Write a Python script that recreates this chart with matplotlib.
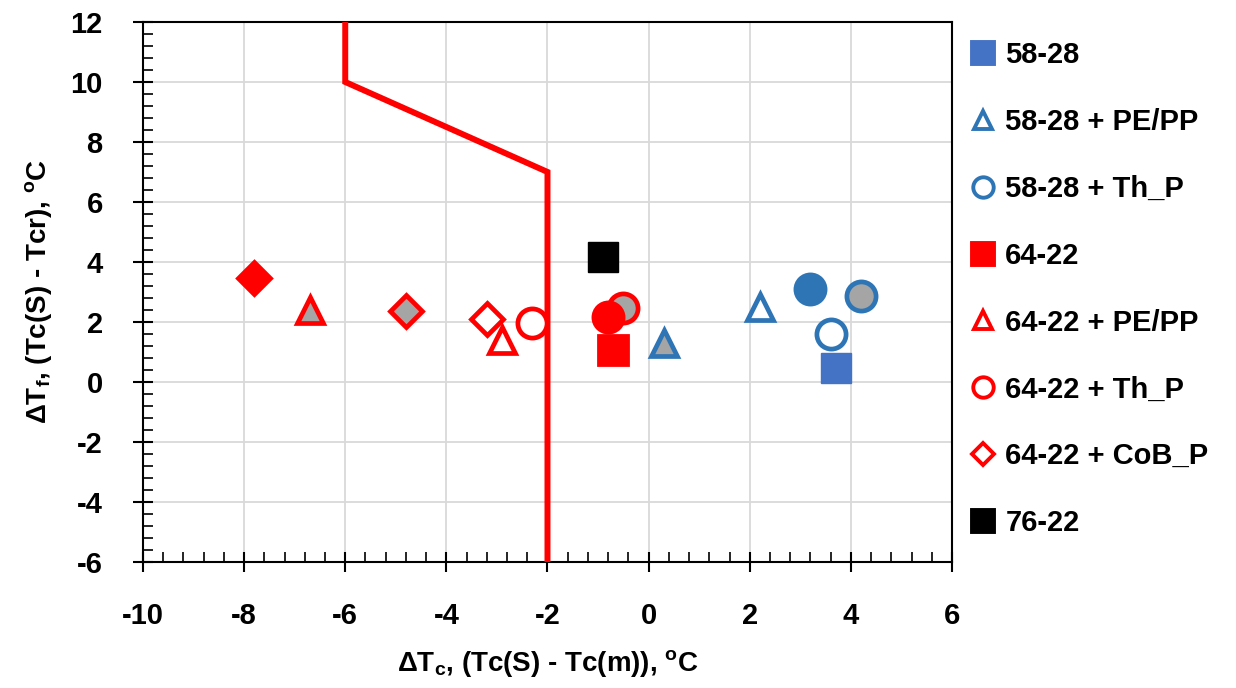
import numpy as np
import matplotlib
matplotlib.use("Agg")
import matplotlib.pyplot as plt
from matplotlib.ticker import MultipleLocator

# Шрифты
FONT = 'Liberation Sans'
plt.rcParams['font.family'] = [FONT, 'DejaVu Sans']
plt.rcParams['font.weight'] = 'bold'
plt.rcParams['axes.unicode_minus'] = False
plt.rcParams['mathtext.fontset'] = 'custom'
plt.rcParams['mathtext.rm'] = FONT + ':bold'
plt.rcParams['mathtext.it'] = FONT + ':bold'
plt.rcParams['mathtext.bf'] = FONT + ':bold'
plt.rcParams['mathtext.default'] = 'rm'

# Цвета
BLUE_SQ = '#4472C4'
BLUE = '#2E75B6'
RED = '#FF0000'
GRAY = '#A5A5A5'

# Данные
# 58-28
b58_x = [3.7]
b58_y = [0.45]
# 58-28 + PE/PP: пустой / серый
b58_pe_x = [2.2]
b58_pe_y = [2.5]
b58_pe_gray_x = [0.3]
b58_pe_gray_y = [1.3]
# 58-28 + Th_P: пустой / залитый / серый
b58_th_x = [3.6]
b58_th_y = [1.6]
b58_th_solid_x = [3.2]
b58_th_solid_y = [3.1]
b58_th_gray_x = [4.2]
b58_th_gray_y = [2.85]
# 64-22
b64_x = [-0.7]
b64_y = [1.05]
# 64-22 + PE/PP
b64_pe_x = [-2.9]
b64_pe_y = [1.4]
b64_pe_gray_x = [-6.7]
b64_pe_gray_y = [2.4]
# 64-22 + Th_P
b64_th_x = [-2.3]
b64_th_y = [1.95]
b64_th_solid_x = [-0.8]
b64_th_solid_y = [2.15]
b64_th_gray_x = [-0.5]
b64_th_gray_y = [2.45]
# 64-22 + CoB_P
b64_cob_x = [-3.2]
b64_cob_y = [2.1]
b64_cob_solid_x = [-7.8]
b64_cob_solid_y = [3.45]
b64_cob_gray_x = [-4.8]
b64_cob_gray_y = [2.35]
# 76-22
b76_x = [-0.9]
b76_y = [4.15]

# Граничная линия
limit_x = [-6, -6, -2, -2]
limit_y = [12, 10, 7, -6]

fig = plt.figure(figsize=(12.36, 6.88), dpi=100)
ax = fig.add_axes([0.1157, 0.1835, 0.6545, 0.7845])

ax.plot(limit_x, limit_y, color=RED, lw=4.3, zorder=3, solid_joinstyle='miter')

MS_SQ = 22
MS_C = 21
MS_T = 19
MS_D = 16
EW = 3.4

def pts(x, y, marker, ms, face, edge, label=None, mew=EW):
    ax.plot(x, y, ls='none', marker=marker, ms=ms, mfc=face, mec=edge,
            mew=mew, label=label, zorder=4)

# дополнительные точки (без легенды)
pts(b58_pe_gray_x, b58_pe_gray_y, '^', MS_T, GRAY, BLUE)
pts(b58_th_solid_x, b58_th_solid_y, 'o', MS_C, BLUE, BLUE)
pts(b58_th_gray_x, b58_th_gray_y, 'o', MS_C, GRAY, BLUE)
pts(b64_pe_gray_x, b64_pe_gray_y, '^', MS_T, GRAY, RED)
pts(b64_cob_solid_x, b64_cob_solid_y, 'D', MS_D, RED, RED)
pts(b64_cob_gray_x, b64_cob_gray_y, 'D', MS_D, GRAY, RED)
pts(b64_th_gray_x, b64_th_gray_y, 'o', MS_C, GRAY, RED)
pts(b64_th_solid_x, b64_th_solid_y, 'o', MS_C, RED, RED)

# основные серии
pts(b58_x, b58_y, 's', MS_SQ, BLUE_SQ, BLUE_SQ, '58-28', mew=1)
pts(b58_pe_x, b58_pe_y, '^', MS_T, 'white', BLUE, '58-28 + PE/PP')
pts(b58_th_x, b58_th_y, 'o', MS_C, 'white', BLUE, '58-28 + Th_P')
pts(b64_x, b64_y, 's', MS_SQ, RED, RED, '64-22', mew=2)
pts(b64_pe_x, b64_pe_y, '^', MS_T, 'white', RED, '64-22 + PE/PP')
pts(b64_th_x, b64_th_y, 'o', MS_C, 'white', RED, '64-22 + Th_P')
pts(b64_cob_x, b64_cob_y, 'D', MS_D, 'white', RED, '64-22 + CoB_P')
pts(b76_x, b76_y, 's', MS_SQ, 'black', 'black', '76-22', mew=1)

ax.set_xlim(-10, 6)
ax.set_ylim(-6, 12)
ax.xaxis.set_major_locator(MultipleLocator(2))
ax.xaxis.set_minor_locator(MultipleLocator(0.4))
ax.yaxis.set_major_locator(MultipleLocator(2))
ax.yaxis.set_minor_locator(MultipleLocator(0.4))
ax.grid(True, which='major', color='#D9D9D9', lw=1.3, zorder=0)
ax.set_axisbelow(True)
for s in ax.spines.values():
    s.set_linewidth(1.5)
    s.set_color('black')
ax.tick_params(which='major', direction='inout', length=14, width=1.5,
               labelsize=21)
ax.tick_params(which='minor', direction='in', length=7, width=1.2)
ax.tick_params(axis='x', which='major', pad=22)
ax.tick_params(axis='y', which='major', pad=22)
for lab in ax.get_xticklabels() + ax.get_yticklabels():
    lab.set_fontweight('bold')

ax.set_xlabel(r'$\Delta$T$_c$, (Tc(S) - Tc(m)), $^o$C', fontsize=20,
              fontweight='bold', labelpad=13)
ax.set_ylabel(r'$\Delta$T$_f$, (Tc(S) - Tcr), $^o$C', fontsize=20,
              fontweight='bold', labelpad=12)

# легенда: уменьшенные маркеры
handles, labels = ax.get_legend_handles_labels()
leg = fig.legend(handles, labels, loc='upper left', bbox_to_anchor=(0.765, 0.978),
                 frameon=False, fontsize=21, labelspacing=1.33,
                 handlelength=0.8, handletextpad=0.35, markerscale=0.7)
for t in leg.get_texts():
    t.set_fontweight('bold')
for h in leg.legend_handles:
    h.set_markeredgewidth(2.8)

fig.savefig('out.png', dpi=100)
